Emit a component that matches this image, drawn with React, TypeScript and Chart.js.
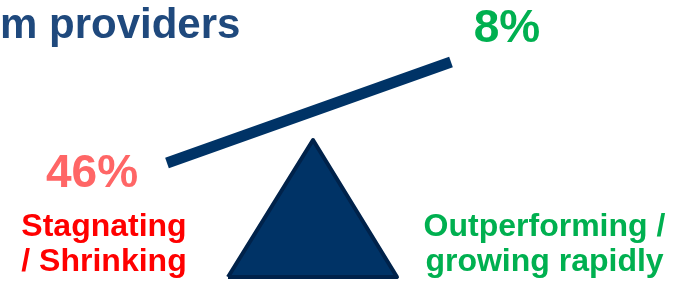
import React, { useEffect, useRef } from "react";
import { Chart, registerables } from "chart.js";

Chart.register(...registerables);

// ---- data ----
const TITLE_TEXT = "m providers";
const CATEGORIES = ["Stagnating / Shrinking", "Outperforming / growing rapidly"];
const CATEGORY_LINES = [
  ["Stagnating", "/ Shrinking"],
  ["Outperforming /", "growing rapidly"],
];
const SHARE_VALUES = [46, 8];

// seesaw geometry in chart units (x 0..685, y 0..283, y downwards)
const BEAM_X = [167, 451];
const BEAM_Y = [163, 62];
const FULCRUM_X = [228, 313, 397, 228];
const FULCRUM_Y = [277, 140, 277, 277];

// ---- layout / style ----
const W = 685;
const H = 283;
const FONT = "'Liberation Sans', Arial, sans-serif";
const VALUE_COLORS = ["#FF6666", "#00B050"];
const LABEL_COLORS = ["#FF0000", "#00B050"];
const VALUE_POS = [
  { x: 92, y: 187 },
  { x: 507, y: 42 },
];
const LABEL_POS = [
  { x: 104, y: 236 },
  { x: 544.5, y: 236 },
];
const LINE_GAP = 34.5;

const textPlugin = {
  id: "seesawText",
  afterDatasetsDraw(chart: any) {
    const { ctx, scales } = chart;
    const px = (v: number) => scales.x.getPixelForValue(v);
    const py = (v: number) => scales.y.getPixelForValue(v);
    ctx.save();
    ctx.textBaseline = "alphabetic";
    // title
    ctx.font = `bold 42px ${FONT}`;
    ctx.fillStyle = "#1F497D";
    ctx.textAlign = "left";
    ctx.fillText(TITLE_TEXT, px(0), py(38));
    // values
    SHARE_VALUES.forEach((v, i) => {
      ctx.font = `bold 46px ${FONT}`;
      ctx.fillStyle = VALUE_COLORS[i];
      ctx.textAlign = "center";
      ctx.fillText(`${v}%`, px(VALUE_POS[i].x), py(VALUE_POS[i].y));
    });
    // category labels
    CATEGORY_LINES.forEach((lines, i) => {
      ctx.font = `bold 32px ${FONT}`;
      ctx.fillStyle = LABEL_COLORS[i];
      ctx.textAlign = "center";
      lines.forEach((ln, j) => {
        ctx.fillText(ln, px(LABEL_POS[i].x), py(LABEL_POS[i].y + j * LINE_GAP));
      });
    });
    ctx.restore();
  },
};

export default function App() {
  const ref = useRef<HTMLCanvasElement | null>(null);
  useEffect(() => {
    if (!ref.current) return;
    const chart = new Chart(ref.current, {
      type: "scatter",
      data: {
        datasets: [
          {
            label: "fulcrum",
            data: FULCRUM_X.map((x, i) => ({ x, y: FULCRUM_Y[i] })),
            showLine: true,
            backgroundColor: "#003366",
            borderColor: "#00224A",
            borderWidth: 4,
            borderJoinStyle: "round",
            pointRadius: 0,
            fill: "shape",
            tension: 0,
          } as any,
          {
            label: CATEGORIES.join(" vs "),
            data: BEAM_X.map((x, i) => ({ x, y: BEAM_Y[i] })),
            showLine: true,
            borderColor: "#003366",
            borderWidth: 11,
            borderCapStyle: "butt",
            pointRadius: 0,
            fill: false,
          } as any,
        ],
      },
      options: {
        animation: false,
        responsive: false,
        maintainAspectRatio: false,
        devicePixelRatio: 1,
        layout: { padding: 0 },
        scales: {
          x: { type: "linear", min: 0, max: W, display: false },
          y: { type: "linear", min: 0, max: H, reverse: true, display: false },
        },
        plugins: {
          legend: { display: false },
          tooltip: { enabled: false },
          title: { display: false },
          filler: { drawTime: "beforeDatasetDraw" },
        },
      },
      plugins: [textPlugin],
    });
    return () => chart.destroy();
  }, []);
  return (
    <div style={{ position: "fixed", left: 0, top: 0, width: W, height: H, background: "#fff" }}>
      <canvas ref={ref} width={W} height={H} style={{ display: "block" }} />
    </div>
  );
}
